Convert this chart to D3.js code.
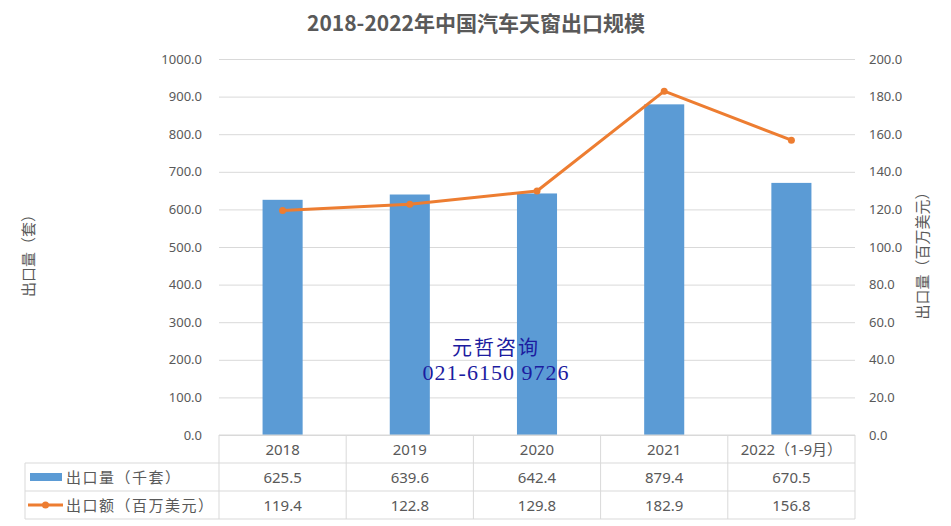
<!DOCTYPE html>
<html>
<head>
<meta charset="utf-8">
<script src="https://cdn.jsdelivr.net/npm/d3@7"></script>
<style>
  body { margin: 0; background: #fff; }
  text { font-family: "Noto Sans", "Noto Sans CJK SC", sans-serif; }
</style>
</head>
<body>
<div id="chart"></div>
<script>
const categories = ["2018", "2019", "2020", "2021", "2022（1-9月）"];
const volume = [625.5, 639.6, 642.4, 879.4, 670.5];   // 出口量（千套）
const value = [119.4, 122.8, 129.8, 182.9, 156.8];    // 出口额（百万美元）
const leftTicks = [0, 100, 200, 300, 400, 500, 600, 700, 800, 900, 1000];
const rightTicks = [0, 20, 40, 60, 80, 100, 120, 140, 160, 180, 200];

const width = 951, height = 526;
const plot = {left: 219, right: 855, top: 59, bottom: 435};
const gray = "#595959", gridColor = "#d9d9d9";
const barColor = "#5B9BD5", lineColor = "#ED7D31";

const svg = d3.select("#chart").append("svg").attr("width", width).attr("height", height);

const x = d3.scaleBand().domain(categories).range([plot.left, plot.right]);
const yL = d3.scaleLinear().domain([0, 1000]).range([plot.bottom, plot.top]);
const yR = d3.scaleLinear().domain([0, 200]).range([plot.bottom, plot.top]);
const barW = x.bandwidth() * 0.315;

// title
svg.append("text").attr("x", 476).attr("y", 31).attr("text-anchor", "middle")
  .attr("font-size", "21px").attr("font-weight", "bold").attr("fill", gray)
  .style("font-family", "'Noto Sans CJK SC', sans-serif")
  .text("2018-2022年中国汽车天窗出口规模");

// gridlines
svg.append("g").attr("transform", `translate(${plot.left},0)`)
  .call(d3.axisLeft(yL).tickValues(leftTicks).tickSize(-(plot.right - plot.left)).tickFormat(""))
  .call(g => g.select(".domain").remove())
  .call(g => g.selectAll("line").attr("stroke", gridColor));

// left axis labels
svg.append("g").attr("transform", `translate(${plot.left - 17},0)`)
  .call(d3.axisLeft(yL).tickValues(leftTicks).tickSize(0).tickPadding(0).tickFormat(d3.format(".1f")))
  .call(g => g.select(".domain").remove())
  .call(g => g.selectAll("text").attr("fill", gray).attr("font-size", "13px")
    .style("font-family", "'Noto Sans', sans-serif"));

// right axis labels
svg.append("g").attr("transform", `translate(${plot.right + 14},0)`)
  .call(d3.axisRight(yR).tickValues(rightTicks).tickSize(0).tickPadding(0).tickFormat(d3.format(".1f")))
  .call(g => g.select(".domain").remove())
  .call(g => g.selectAll("text").attr("fill", gray).attr("font-size", "13px")
    .style("font-family", "'Noto Sans', sans-serif"));

// axis titles
svg.append("text").attr("transform", "translate(34,252) rotate(-90)").attr("text-anchor", "middle")
  .attr("font-size", "15px").attr("fill", gray).text("出口量（套）");
svg.append("text").attr("transform", "translate(928,252) rotate(-90)").attr("text-anchor", "middle")
  .attr("font-size", "15px").attr("fill", gray).text("出口量（百万美元）");

// bars
svg.selectAll("rect.bar").data(volume).enter().append("rect").attr("class", "bar")
  .attr("x", (d, i) => x(categories[i]) + (x.bandwidth() - barW) / 2)
  .attr("y", d => yL(d))
  .attr("width", barW)
  .attr("height", d => yL(0) - yL(d))
  .attr("fill", barColor);

// line
const line = d3.line().x((d, i) => x(categories[i]) + x.bandwidth() / 2).y(d => yR(d));
svg.append("path").datum(value).attr("fill", "none").attr("stroke", lineColor)
  .attr("stroke-width", 3).attr("stroke-linejoin", "round").attr("d", line);
svg.selectAll("circle.pt").data(value).enter().append("circle").attr("class", "pt")
  .attr("cx", (d, i) => x(categories[i]) + x.bandwidth() / 2)
  .attr("cy", d => yR(d)).attr("r", 3.5).attr("fill", lineColor);

// data table
const rowH = 28, tableLeft = 25;
const rows = [plot.bottom, plot.bottom + rowH, plot.bottom + rowH * 2, plot.bottom + rowH * 3];
const tbl = svg.append("g").attr("stroke", gridColor).attr("stroke-width", 1);
tbl.append("line").attr("x1", plot.left).attr("x2", plot.right).attr("y1", rows[0]).attr("y2", rows[0]);
rows.slice(1).forEach(y => tbl.append("line").attr("x1", tableLeft).attr("x2", plot.right).attr("y1", y).attr("y2", y));
tbl.append("line").attr("x1", tableLeft).attr("x2", tableLeft).attr("y1", rows[1]).attr("y2", rows[3]);
categories.forEach(c => tbl.append("line").attr("x1", x(c)).attr("x2", x(c)).attr("y1", rows[0]).attr("y2", rows[3]));
tbl.append("line").attr("x1", plot.right).attr("x2", plot.right).attr("y1", rows[0]).attr("y2", rows[3]);

const cellText = (cx, cy, t) => svg.append("text").attr("x", cx).attr("y", cy)
  .attr("text-anchor", "middle").attr("dominant-baseline", "central")
  .attr("font-size", "15px").attr("fill", gray).text(t);
categories.forEach((c, i) => {
  const cx = x(c) + x.bandwidth() / 2;
  cellText(cx, rows[0] + rowH / 2, c);
  cellText(cx, rows[1] + rowH / 2, d3.format(".1f")(volume[i]));
  cellText(cx, rows[2] + rowH / 2, d3.format(".1f")(value[i]));
});

// legend keys in the table
svg.append("rect").attr("x", 30).attr("y", rows[1] + rowH / 2 - 4).attr("width", 32).attr("height", 8).attr("fill", barColor);
svg.append("line").attr("x1", 28).attr("x2", 63).attr("y1", rows[2] + rowH / 2).attr("y2", rows[2] + rowH / 2)
  .attr("stroke", lineColor).attr("stroke-width", 3);
svg.append("circle").attr("cx", 45.5).attr("cy", rows[2] + rowH / 2).attr("r", 3.5).attr("fill", lineColor);
svg.append("text").attr("x", 66).attr("y", rows[1] + rowH / 2).attr("dominant-baseline", "central")
  .attr("font-size", "15px").attr("letter-spacing", "1.5px").attr("fill", gray).text("出口量（千套）");
svg.append("text").attr("x", 66).attr("y", rows[2] + rowH / 2).attr("dominant-baseline", "central")
  .attr("font-size", "15px").attr("letter-spacing", "1.5px").attr("fill", gray).text("出口额（百万美元）");

// watermark
const wm = svg.append("g");
wm.append("text").attr("x", 496).attr("y", 355).attr("text-anchor", "middle").attr("fill", "#1C1CA0")
  .attr("font-size", "20px").attr("letter-spacing", "2px").style("font-family", "'Noto Sans CJK SC', serif").text("元哲咨询");
wm.append("text").attr("x", 496).attr("y", 380).attr("text-anchor", "middle").attr("fill", "#1C1CA0")
  .attr("font-size", "22px").attr("letter-spacing", "1px").style("font-family", "'Liberation Serif', serif").text("021-6150 9726");
</script>
</body>
</html>
